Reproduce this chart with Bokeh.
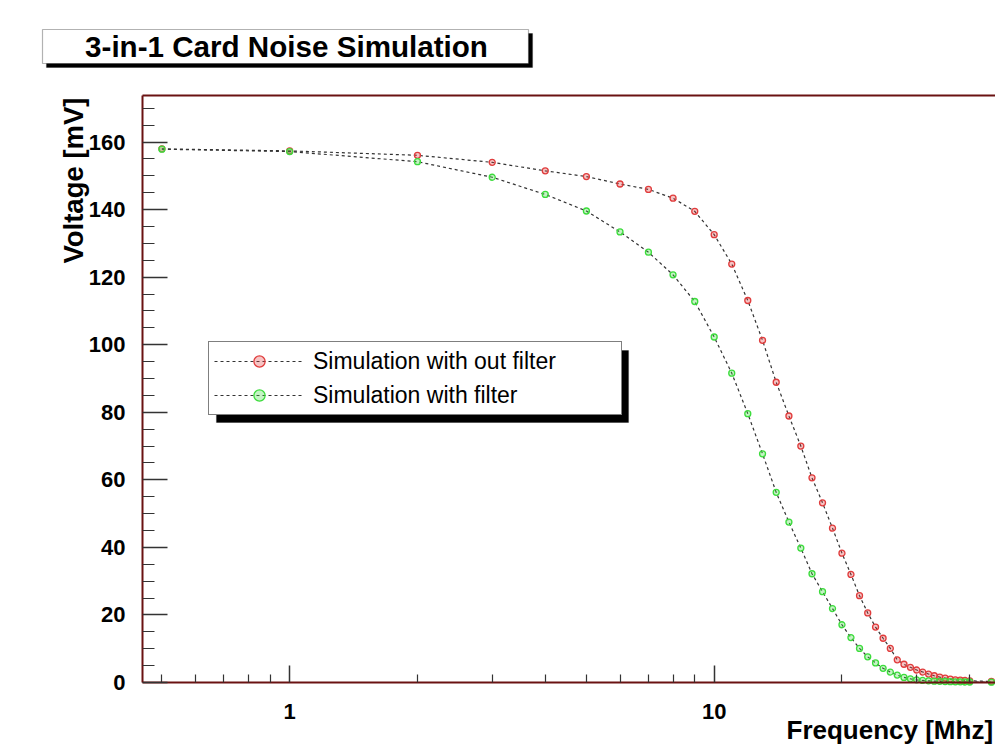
import math
from bokeh.plotting import figure
from bokeh.models import (FixedTicker, LogAxis, Label, BoxAnnotation, Legend,
                          LegendItem, Range1d, CustomJSTickFormatter)
from bokeh.embed import file_html
from bokeh.resources import INLINE

# ---------------- data ----------------
FREQ_MHZ = [0.5, 1, 2, 3, 4, 5, 6, 7, 8, 9, 10, 11, 12, 13, 14, 15, 16, 17, 18, 19,
            20, 21, 22, 23, 24, 25, 26, 27, 28, 29, 30, 31, 32, 33, 34, 35, 36, 37,
            38, 39, 40, 45]
V_WITHOUT_FILTER = [158.0, 157.4, 156.1, 154.0, 151.5, 149.8, 147.6, 146.0, 143.4, 139.5,
                    132.6, 123.9, 113.1, 101.3, 88.9, 78.9, 70.0, 60.6, 53.2, 45.7,
                    38.3, 32.0, 25.7, 20.6, 16.4, 13.1, 10.1, 6.7, 5.4, 4.5,
                    3.7, 3.1, 2.5, 2.0, 1.6, 1.3, 1.0, 0.8, 0.7, 0.6, 0.5, 0.3]
V_WITH_FILTER = [157.9, 157.2, 154.2, 149.6, 144.5, 139.6, 133.4, 127.4, 120.7, 112.8,
                 102.3, 91.6, 79.6, 67.7, 56.3, 47.5, 39.8, 32.2, 26.9, 21.9,
                 17.1, 13.3, 10.1, 7.6, 5.8, 4.2, 3.1, 2.2, 1.5, 1.1,
                 0.8, 0.6, 0.5, 0.4, 0.35, 0.3, 0.25, 0.2, 0.2, 0.15, 0.15, 0.1]

SERIES_NAMES = ["Simulation with out filter", "Simulation with filter"]
SERIES_COLORS = ["#e03c3c", "#3cdc3c"]

X_TICKS = [1, 10]
X_TICK_LABELS = ["1", "10"]
X_MINOR_TICKS = [0.5, 0.6, 0.7, 0.8, 0.9, 2, 3, 4, 5, 6, 7, 8, 9, 20, 30, 40]
Y_TICKS = [0, 20, 40, 60, 80, 100, 120, 140, 160]
Y_MINOR_TICKS = [5, 10, 15, 25, 30, 35, 45, 50, 55, 65, 70, 75, 85, 90, 95,
                 105, 110, 115, 125, 130, 135, 145, 150, 155, 165, 170]

TITLE = "3-in-1 Card Noise Simulation"
X_TITLE = "Frequency [Mhz]"
Y_TITLE = "Voltage [mV]"

X_RANGE = (0.45, 46.0)     # visible axis extent (cut at the right edge)
Y_RANGE = (0.0, 173.8)

# ---------------- layout (page pixels, top-left origin) ----------------
W, H = 995, 744
FRAME_L, FRAME_R, FRAME_T, FRAME_B = 142, 995, 95, 682

FONT = "Liberation Sans"
FRAME_COLOR = "#6a1212"
TICK_COLOR = "#333333"

# extend the ranges so that the whole canvas is the plotting frame and the
# visible axes box sits at the wanted pixels
lx0, lx1 = math.log10(X_RANGE[0]), math.log10(X_RANGE[1])
ppd = (FRAME_R - FRAME_L) / (lx1 - lx0)
x_start = 10 ** (lx0 - FRAME_L / ppd)
x_end = 10 ** (lx1 + (W - FRAME_R) / ppd)
ppu = (FRAME_B - FRAME_T) / (Y_RANGE[1] - Y_RANGE[0])
y_start = Y_RANGE[0] - (H - FRAME_B) / ppu
y_end = Y_RANGE[1] + FRAME_T / ppu


def sx(px):
    return px


def sy(py):
    return H - py


p = figure(width=W, height=H, x_axis_type="log",
           x_range=Range1d(x_start, x_end), y_range=Range1d(y_start, y_end),
           output_backend="svg", toolbar_location=None, min_border=0)
p.outline_line_color = None
p.grid.visible = False
p.background_fill_color = "white"
p.border_fill_color = "white"

xa = p.xaxis[0]
xa.fixed_location = Y_RANGE[0]
xa.bounds = X_RANGE
xa.ticker = FixedTicker(ticks=X_TICKS, minor_ticks=X_MINOR_TICKS)
xa.formatter = CustomJSTickFormatter(code="return String(tick)")
xa.major_label_overrides = dict(zip(X_TICKS, X_TICK_LABELS))
xa.major_tick_in = 17
xa.major_tick_out = 0
xa.minor_tick_in = 8
xa.minor_tick_out = 0
xa.major_label_standoff = 21

ya = p.yaxis[0]
ya.fixed_location = X_RANGE[0]
ya.bounds = Y_RANGE
ya.ticker = FixedTicker(ticks=Y_TICKS, minor_ticks=Y_MINOR_TICKS)
ya.major_tick_in = 25
ya.major_tick_out = 0
ya.minor_tick_in = 12
ya.minor_tick_out = 0
ya.major_label_standoff = 17

for ax in (xa, ya):
    ax.axis_line_color = FRAME_COLOR
    ax.axis_line_width = 2
    ax.major_tick_line_color = TICK_COLOR
    ax.minor_tick_line_color = TICK_COLOR
    ax.major_tick_line_width = 1.5
    ax.minor_tick_line_width = 1.2
    ax.major_label_text_font = FONT
    ax.major_label_text_font_style = "bold"
    ax.major_label_text_font_size = "22px"
    ax.major_label_text_color = "black"

top_axis = LogAxis(ticker=FixedTicker(ticks=[]), fixed_location=Y_RANGE[1],
                   bounds=X_RANGE, major_label_text_font_size="0px",
                   major_tick_line_color=None, minor_tick_line_color=None,
                   axis_line_color=FRAME_COLOR, axis_line_width=2)
p.add_layout(top_axis, "above")

# ---------------- data glyphs ----------------
items = []
for vals, name, col in zip([V_WITHOUT_FILTER, V_WITH_FILTER], SERIES_NAMES, SERIES_COLORS):
    ln = p.line(FREQ_MHZ, vals, line_color="#333333", line_dash="3 3", line_width=1.2)
    sc = p.scatter(FREQ_MHZ, vals, marker="circle", size=6, line_color=col,
                   line_width=1.3, fill_color=col, fill_alpha=0.3)
    items.append(LegendItem(label=name, renderers=[ln, sc]))


# ---------------- decorations ----------------
def box(l, t, r, b, fill, line):
    return BoxAnnotation(left=sx(l), right=sx(r), bottom=sy(b), top=sy(t),
                         left_units="screen", right_units="screen",
                         bottom_units="screen", top_units="screen",
                         fill_color=fill, fill_alpha=1.0,
                         line_color=line, line_width=1.2, level="annotation")


# title box with shadow
p.add_layout(box(46, 33, 532, 67, "black", "black"))
p.add_layout(box(42, 29, 528, 63, "white", "black"))
p.add_layout(Label(x=sx(286), y=sy(46), x_units="screen", y_units="screen", text=TITLE,
                   text_align="center", text_baseline="middle", text_font=FONT,
                   text_font_style="bold", text_font_size="29.6px", text_color="black"))

# axis titles
p.add_layout(Label(x=sx(786), y=sy(729), x_units="screen", y_units="screen", text=X_TITLE,
                   text_align="left", text_baseline="middle", text_font=FONT,
                   text_font_style="bold", text_font_size="26px", text_color="black"))
p.add_layout(Label(x=sx(73), y=sy(97), x_units="screen", y_units="screen", text=Y_TITLE,
                   angle=math.pi / 2, text_align="right", text_baseline="middle",
                   text_font=FONT, text_font_style="bold", text_font_size="27.5px",
                   text_color="black"))

# legend shadow + legend
p.add_layout(box(216, 350, 628, 422, "black", "black"))
legend = Legend(items=items, location=(sx(208), sy(415)), orientation="vertical",
                border_line_color="black", border_line_width=1.2,
                background_fill_color="white", background_fill_alpha=1.0,
                label_text_font=FONT, label_text_font_size="23px",
                label_text_color="black",
                glyph_width=90, glyph_height=28, label_height=28, label_width=303,
                label_standoff=9, padding=5, spacing=6, margin=0)
p.add_layout(legend, "center")

open("out.html", "w").write(file_html(p, INLINE))
